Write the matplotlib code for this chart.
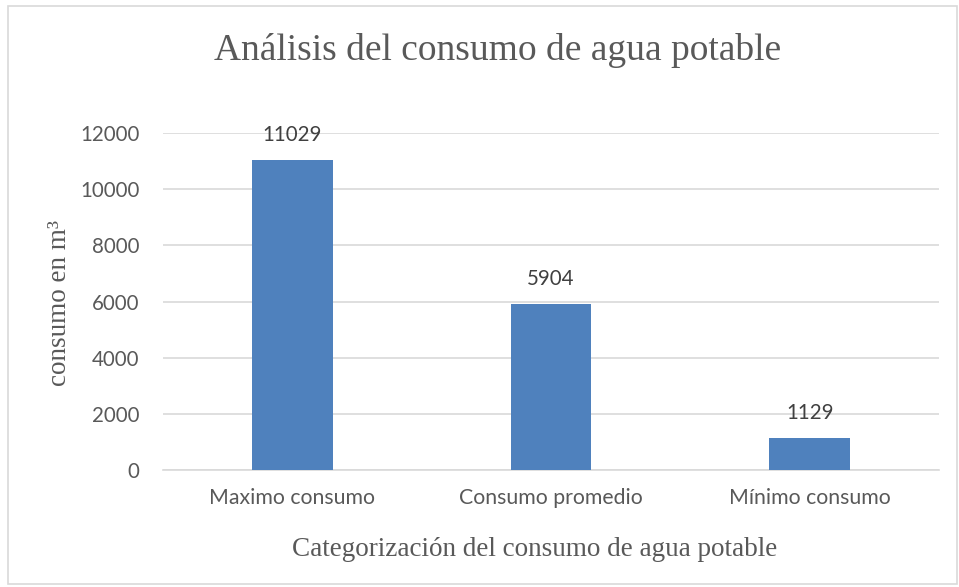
import matplotlib
matplotlib.use('Agg')
import matplotlib.pyplot as plt
from matplotlib.patches import Rectangle

# datos
categorias = ['Maximo consumo', 'Consumo promedio', 'Mínimo consumo']
consumo = [11029, 5904, 1129]
ticks_y = [0, 2000, 4000, 6000, 8000, 10000, 12000]

GRIS_TEXTO = '#595959'
GRIS_LINEA = '#D9D9D9'
AZUL = '#4F81BD'
SERIF = 'Liberation Serif'
SANS = 'Lato'

fig = plt.figure(figsize=(9.59, 5.87), dpi=100)
W, H = 959, 587
# area del grafico (pixeles)
left, right, top, bottom = 163, 939, 133, 470
ax = fig.add_axes([left / W, 1 - bottom / H, (right - left) / W, (bottom - top) / H])

x = range(len(categorias))
ax.bar(x, consumo, width=0.313, color=AZUL, zorder=3)
for xi, v in zip(x, consumo):
    ax.annotate(str(v), (xi, v), xytext=(0, 25), textcoords='offset pixels',
                ha='center', va='center', fontsize=14.8, color='#404040', family=SANS)

ax.set_xlim(-0.5, 2.5)
ax.set_ylim(0, 12000)
ax.set_yticks(ticks_y)
ax.set_yticklabels([str(t) for t in ticks_y], fontsize=14.8, color=GRIS_TEXTO, family=SANS)
ax.set_xticks(list(x))
ax.set_xticklabels(categorias, fontsize=15.3, color=GRIS_TEXTO, family=SANS)
ax.tick_params(axis='both', length=0)
ax.tick_params(axis='y', pad=17)
ax.tick_params(axis='x', pad=13)
ax.grid(axis='y', color=GRIS_LINEA, lw=1.2, zorder=0)
for s in ['top', 'right', 'left']:
    ax.spines[s].set_visible(False)
ax.spines['bottom'].set_color(GRIS_LINEA)
ax.spines['bottom'].set_linewidth(1.2)

fig.text(498 / W, 1 - 50 / H, 'Análisis del consumo de agua potable', ha='center', va='center',
         fontsize=27, color=GRIS_TEXTO, family=SERIF)
fig.text(535 / W, 1 - 549 / H, 'Categorización del consumo de agua potable', ha='center', va='center',
         fontsize=19.5, color=GRIS_TEXTO, family=SERIF)
fig.text(60 / W, 1 - 303 / H, 'consumo en m³', ha='center', va='center', rotation=90,
         fontsize=19.5, color=GRIS_TEXTO, family=SERIF)

# borde del grafico
fig.patches.append(Rectangle((8 / W, 3 / H), 949 / W, 578 / H, transform=fig.transFigure,
                             fill=False, edgecolor=GRIS_LINEA, lw=1.2))

fig.savefig('out.png', dpi=100)
